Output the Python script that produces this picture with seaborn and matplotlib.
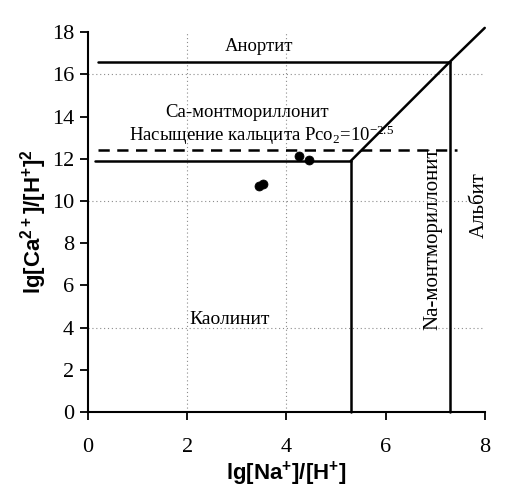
import matplotlib
matplotlib.use("Agg")
import matplotlib.pyplot as plt
import seaborn as sns
import pandas as pd

# ---- data ----
anorthite_x = [0.2, 7.3]
anorthite_y = [16.6, 16.6]
kaolinite_ca_x = [0.15, 5.3]
kaolinite_ca_y = [11.9, 11.9]
ca_na_x = [5.3, 7.3, 8.0]
ca_na_y = [11.9, 16.6, 18.2]
kaolinite_na_x = [5.3, 5.3]
kaolinite_na_y = [11.9, 0.0]
albite_x = [7.3, 7.3]
albite_y = [16.6, 0.0]
calcite_x = [0.2, 7.45]
calcite_y = [12.4, 12.4]
samples_x = [3.45, 3.53, 4.25, 4.45]
samples_y = [10.7, 10.8, 12.15, 11.95]
grid_x = [2, 4]
grid_y = [4, 10, 16]
x_ticks = [0, 2, 4, 6, 8]
y_ticks = [0, 2, 4, 6, 8, 10, 12, 14, 16, 18]

sns.set_theme(style="ticks")
plt.rcParams["font.family"] = ["Liberation Serif", "DejaVu Serif"]
plt.rcParams["mathtext.default"] = "regular"

fig = plt.figure(figsize=(5.06, 4.94), dpi=100)
ax = fig.add_axes([0.174, 0.166, 0.784, 0.769])

for gx in grid_x:
    ax.axvline(gx, color="0.55", lw=0.8, ls=(0, (1, 2.5)), zorder=0)
for gy in grid_y:
    ax.axhline(gy, color="0.55", lw=0.8, ls=(0, (1, 2.5)), zorder=0)

solid = [(anorthite_x, anorthite_y), (kaolinite_ca_x, kaolinite_ca_y),
         (ca_na_x, ca_na_y), (kaolinite_na_x, kaolinite_na_y),
         (albite_x, albite_y)]
for xs, ys in solid:
    df = pd.DataFrame({"x": xs, "y": ys})
    sns.lineplot(data=df, x="x", y="y", sort=False, color="black", lw=1.8,
                 ax=ax, clip_on=False, estimator=None)

dfc = pd.DataFrame({"x": calcite_x, "y": calcite_y})
sns.lineplot(data=dfc, x="x", y="y", sort=False, color="black", lw=1.8,
             ls=(0, (4.5, 3)), ax=ax, estimator=None)

dfs = pd.DataFrame({"x": samples_x, "y": samples_y})
sns.scatterplot(data=dfs, x="x", y="y", color="black", s=42, ax=ax,
                edgecolor="black", zorder=5)

ax.set_xlim(0, 8)
ax.set_ylim(0, 18)
ax.set_xticks(x_ticks)
ax.set_yticks(y_ticks)
sns.despine(ax=ax)
for s in ["left", "bottom"]:
    ax.spines[s].set_linewidth(1.5)
    ax.spines[s].set_color("black")
ax.tick_params(axis="both", direction="out", length=6, width=1.3,
               colors="black", labelsize=16)
ax.tick_params(axis="x", pad=13)
ax.tick_params(axis="y", pad=4)

lab = dict(family=["Liberation Sans", "DejaVu Sans"], fontweight="bold",
           fontsize=16, color="black")
ax.set_xlabel(r"lg[Na$^{+}$]/[H$^{+}$]", labelpad=2, **lab)
ax.set_ylabel(r"lg[Ca$^{2+}$]/[H$^{+}$]$^{2}$", labelpad=2, **lab)

tx = dict(fontsize=13.5, color="black")
ax.text(3.45, 17.3, "Анортит", ha="center", va="center", **tx)
ax.text(3.2, 14.2, "Ca-монтмориллонит", ha="center", va="center", **tx)
ax.text(3.5, 13.1, "Насыщение кальцита Pco$_{2}$=10$^{-2.5}$",
        ha="center", va="center", **tx)
ax.text(2.05, 4.4, "Каолинит", ha="left", va="center", fontsize=14,
        color="black")
ax.text(6.95, 8.2, "Na-монтмориллонит", ha="center", va="center",
        rotation=90, fontsize=15, color="black")
ax.text(7.9, 9.8, "Альбит", ha="center", va="center", rotation=90,
        fontsize=15, color="black")

fig.savefig("out.png", dpi=100, facecolor="white")
